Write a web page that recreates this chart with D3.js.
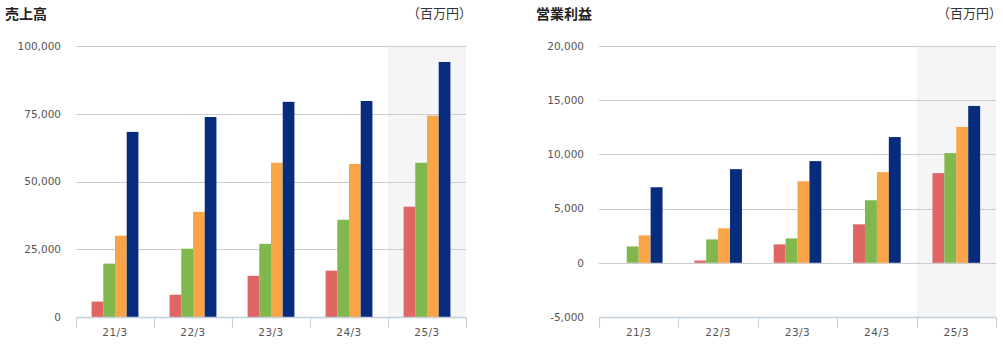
<!DOCTYPE html>
<html><head><meta charset="utf-8">
<script src="https://cdn.jsdelivr.net/npm/d3@7"></script>
<style>
html,body{margin:0;padding:0;background:#fff;}
svg{display:block;}
.tick-label{font-family:"DejaVu Sans",sans-serif;font-size:10.5px;fill:#555;}
.cat-label{font-family:"DejaVu Sans",sans-serif;font-size:10.5px;fill:#555;letter-spacing:0.5px;}
.title{font-family:"Noto Sans CJK JP",sans-serif;font-size:14px;font-weight:bold;fill:#222;}
.unit{font-family:"Noto Sans CJK JP",sans-serif;font-size:13px;fill:#333;}
</style>
</head><body>
<svg id="chart" width="1003" height="344"></svg>
<script>
const categories = ["21/3","22/3","23/3","24/3","25/3"];
const seriesNames = ["s1","s2","s3","s4"];
const seriesColors = ["#e06565","#80b84e","#faa448","#072c7d"];

// 売上高 (百万円)
const salesS1 = [5700, 8200, 15200, 17100, 40700];
const salesS2 = [19700, 25200, 27000, 35900, 56900];
const salesS3 = [30000, 38800, 56900, 56500, 74300];
const salesS4 = [68300, 73800, 79400, 79700, 94100];
const salesTicks = [0, 25000, 50000, 75000, 100000];

// 営業利益 (百万円)
const profitS1 = [0, 210, 1700, 3550, 8270];
const profitS2 = [1510, 2160, 2250, 5770, 10120];
const profitS3 = [2530, 3180, 7530, 8360, 12530];
const profitS4 = [6970, 8640, 9380, 11600, 14470];
const profitTicks = [-5000, 0, 5000, 10000, 15000, 20000];

const highlightCategory = "25/3";

const svg = d3.select("#chart");
const fmt = d3.format(",");

function drawChart(opts){
  const g = svg.append("g");
  const x0 = d3.scaleBand().domain(categories).range([opts.x0, opts.x1]).paddingInner(0).paddingOuter(0);
  const x1 = d3.scaleBand().domain(seriesNames).range([0, x0.bandwidth()]).paddingInner(0).paddingOuter(1.33);
  const y = d3.scaleLinear().domain(opts.domain).range([317, 46]);

  // title & unit
  g.append("text").attr("class","title").attr("x",opts.titleX).attr("y",19).text(opts.title);
  g.append("text").attr("class","unit").attr("x",opts.x1 + 6).attr("y",18).attr("text-anchor","end").text("（百万円）");

  // highlight band
  g.append("rect")
    .attr("x", x0(highlightCategory)).attr("y", y(opts.domain[1]))
    .attr("width", x0.bandwidth()).attr("height", y(opts.domain[0]) - y(opts.domain[1]))
    .attr("fill","#f5f5f5");

  // gridlines (all except bottom)
  g.selectAll(".grid").data(opts.ticks.filter(t => t !== opts.domain[0])).enter()
    .append("line")
    .attr("x1", opts.x0).attr("x2", opts.x1)
    .attr("y1", d => Math.round(y(d)) + 0.5).attr("y2", d => Math.round(y(d)) + 0.5)
    .attr("stroke","#cccccc").attr("stroke-width",1);

  // y labels
  g.selectAll(".yl").data(opts.ticks).enter()
    .append("text").attr("class","tick-label")
    .attr("x", opts.x0 - 15).attr("y", d => y(d)).attr("dy","0.36em")
    .attr("text-anchor","end")
    .text(d => fmt(d).replace("−","-"));

  // bars
  const series = opts.series;
  categories.forEach((c, ci) => {
    seriesNames.forEach((s, si) => {
      const v = series[si][ci];
      if (v === 0) return;
      const y0 = y(0), yv = y(v);
      g.append("rect")
        .attr("x", x0(c) + x1(s)).attr("width", x1.bandwidth())
        .attr("y", Math.min(y0, yv)).attr("height", Math.abs(y0 - yv))
        .attr("fill", seriesColors[si]);
    });
  });

  // x axis
  const axisY = Math.round(y(opts.domain[0])) + 0.5;
  g.append("line").attr("x1", opts.x0).attr("x2", opts.x1).attr("y1", axisY).attr("y2", axisY)
    .attr("stroke","#c3cfdb").attr("stroke-width",1.5);
  const bounds = categories.map(c => x0(c)).concat([opts.x1]);
  g.selectAll(".xt").data(bounds).enter().append("line")
    .attr("x1", d => Math.round(d) + 0.5).attr("x2", d => Math.round(d) + 0.5)
    .attr("y1", axisY).attr("y2", axisY + 10)
    .attr("stroke","#c3cfdb").attr("stroke-width",1.2);
  g.selectAll(".xl").data(categories).enter().append("text")
    .attr("class","cat-label")
    .attr("x", d => x0(d) + x0.bandwidth()/2).attr("y", 336)
    .attr("text-anchor","middle").text(d => d);
}

drawChart({title:"売上高", titleX:5, x0:76, x1:466, domain:[0,100000], ticks:salesTicks,
  series:[salesS1, salesS2, salesS3, salesS4]});
drawChart({title:"営業利益", titleX:536, x0:599, x1:996, domain:[-5000,20000], ticks:profitTicks,
  series:[profitS1, profitS2, profitS3, profitS4]});
</script>
</body></html>
